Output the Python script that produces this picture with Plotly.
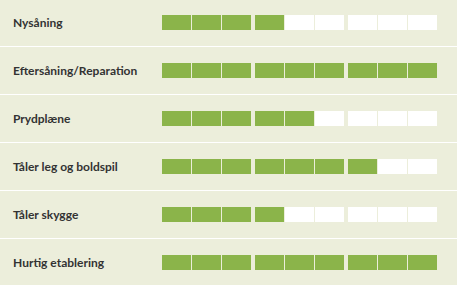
import plotly.graph_objects as go

categories = ["Nysåning", "Eftersåning/Reparation", "Prydplæne",
              "Tåler leg og boldspil", "Tåler skygge", "Hurtig etablering"]
ratings = [4, 9, 5, 7, 4, 9]
max_rating = 9

# layout constants (pixels)
W, H = 457, 285
row_pitch = 48
row_top = 22.5
bar_h = 15
x0 = 162
cell_w = 29
cell_pitch = 30
group_pitch = 93
green = "#8BB44A"
bg = "#ECEEDB"

def cell_start(i):
    return x0 + (i // 3) * group_pitch + (i % 3) * cell_pitch

fill_y, fill_base, empty_y, empty_base = [], [], [], []
for r, v in enumerate(ratings):
    yc = row_top + r * row_pitch
    for i in range(max_rating):
        if i < v:
            fill_y.append(yc); fill_base.append(cell_start(i))
        else:
            empty_y.append(yc); empty_base.append(cell_start(i))

fig = go.Figure()
fig.add_trace(go.Bar(orientation="h", y=fill_y, x=[cell_w] * len(fill_y), base=fill_base,
                     width=bar_h, marker=dict(color=green, line=dict(width=0)),
                     hoverinfo="skip", showlegend=False))
fig.add_trace(go.Bar(orientation="h", y=empty_y, x=[cell_w] * len(empty_y), base=empty_base,
                     width=bar_h, marker=dict(color="#FFFFFF", line=dict(width=0)),
                     hoverinfo="skip", showlegend=False))

for r, name in enumerate(categories):
    fig.add_annotation(x=12, y=row_top + r * row_pitch, text=f"<b>{name}</b>",
                       xref="x", yref="y", xanchor="left", yanchor="middle",
                       showarrow=False, borderpad=0,
                       font=dict(family="Lato", size=12, color="#333333"))

for k in range(len(categories) - 1):
    ys = row_top + k * row_pitch + row_pitch / 2
    fig.add_shape(type="line", x0=0, x1=W, y0=ys, y1=ys, xref="x", yref="y",
                  line=dict(color="#FFFFFF", width=1.2))

fig.update_layout(width=W, height=H, margin=dict(l=0, r=0, t=0, b=0),
                  paper_bgcolor=bg, plot_bgcolor=bg, barmode="overlay", bargap=0,
                  xaxis=dict(range=[0, W], visible=False, fixedrange=True),
                  yaxis=dict(range=[H, 0], visible=False, fixedrange=True))
fig.write_html("out.html")
